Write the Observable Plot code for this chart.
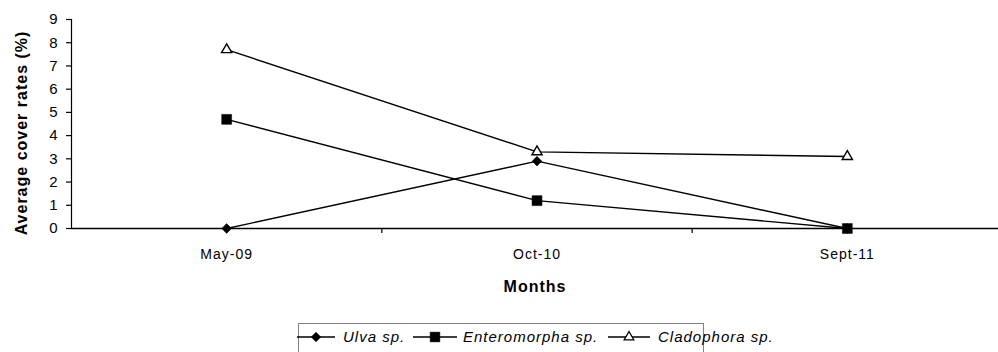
<!DOCTYPE html>
<html><head><meta charset="utf-8">
<script src="https://cdn.jsdelivr.net/npm/d3@7"></script>
<script src="https://cdn.jsdelivr.net/npm/@observablehq/plot@0.6"></script>
<style>
body{margin:0;background:#fff;font-family:"Liberation Sans",Arial,sans-serif;}
#wrap{position:relative;width:998px;height:352px;overflow:hidden;background:#fff;}
#chart svg text{letter-spacing:1px;}
#legend{position:absolute;left:298px;top:323px;width:406px;height:32px;border:1px solid #808080;box-sizing:border-box;}
#legend .txt{position:absolute;top:0;line-height:26px;font-style:italic;font-size:15px;letter-spacing:1px;color:#000;white-space:nowrap;}
#legend svg{position:absolute;top:0;}
</style>
</head><body><div id="wrap"><div id="chart"></div><div id="legend"></div></div>
<script>
const months = ["May-09", "Oct-10", "Sept-11"];
const seriesNames = ["Ulva sp.", "Enteromorpha sp.", "Cladophora sp."];
const ulva = [0, 2.9, 0];
const enteromorpha = [4.7, 1.2, 0];
const cladophora = [7.7, 3.3, 3.1];
const yTicks = [0, 1, 2, 3, 4, 5, 6, 7, 8, 9];

const toRows = vals => vals.map((v, i) => ({month: i, value: v}));
const rUlva = toRows(ulva), rEnt = toRows(enteromorpha), rClad = toRows(cladophora);

const chart = Plot.plot({
  width: 998, height: 322,
  marginLeft: 71, marginRight: 0, marginTop: 19, marginBottom: 94,
  style: {fontFamily: '"Liberation Sans", Arial, sans-serif', fontSize: "14px", color: "#000", background: "#fff"},
  x: {type: "linear", domain: [-0.5, 2.5], range: [71, 1002]},
  y: {domain: [0, 9]},
  marks: [
    Plot.axisY({ticks: yTicks, tickSize: 5, tickPadding: 8, label: null, fontSize: 15, strokeWidth: 1.2}),
    Plot.axisX({ticks: [0.5, 1.5], tickSize: 5, tickFormat: () => "", label: null, strokeWidth: 1.2}),
    Plot.axisX({ticks: [0, 1, 2], tickSize: 0, tickPadding: 21, tickFormat: i => months[i], label: null, fontSize: 14}),
    Plot.ruleX([-0.5], {y1: 0, y2: 9, stroke: "black", strokeWidth: 1.2}),
    Plot.ruleY([0], {x1: -0.5, x2: 2.5, stroke: "black", strokeWidth: 1.4}),
    Plot.line(rUlva, {x: "month", y: "value", stroke: "black", strokeWidth: 1.4}),
    Plot.line(rEnt, {x: "month", y: "value", stroke: "black", strokeWidth: 1.4}),
    Plot.line(rClad, {x: "month", y: "value", stroke: "black", strokeWidth: 1.4}),
    Plot.dot(rUlva, {x: "month", y: "value", symbol: "diamond2", fill: "black", stroke: "black", strokeWidth: 0.5, r: 4.4}),
    Plot.dot(rEnt, {x: "month", y: "value", symbol: "square", fill: "black", stroke: "black", strokeWidth: 0.5, r: 5.6}),
    Plot.dot(rClad, {x: "month", y: "value", symbol: "triangle", fill: "white", stroke: "black", strokeWidth: 1.4, r: 3.8}),
    Plot.text(["Months"], {frameAnchor: "bottom", textAnchor: "middle", lineAnchor: "middle", dy: 58, fontWeight: "bold", fontSize: 16}),
    Plot.text(["Average cover rates (%)"], {frameAnchor: "left", textAnchor: "middle", lineAnchor: "middle", rotate: -90, dx: -50, dy: 9, fontWeight: "bold", fontSize: 16})
  ]
});
document.getElementById("chart").appendChild(chart);

// legend
const legend = d3.select("#legend");
const items = [
  {name: seriesNames[0], sym: d3.symbolDiamond2, size: 60, fill: "black", lx: [-2, 36], tx: 44},
  {name: seriesNames[1], sym: d3.symbolSquare, size: 95, fill: "black", lx: [114, 158], tx: 164},
  {name: seriesNames[2], sym: d3.symbolTriangle, size: 40, fill: "white", lx: [309, 351], tx: 359}
];
for (const it of items) {
  const w = it.lx[1] - it.lx[0];
  const s = legend.append("svg").attr("width", w).attr("height", 26).style("left", it.lx[0] + "px");
  s.append("line").attr("x1", 0).attr("x2", w).attr("y1", 13).attr("y2", 13).attr("stroke", "black").attr("stroke-width", 1.4);
  s.append("path").attr("d", d3.symbol(it.sym, it.size)()).attr("transform", `translate(${w / 2},13)`)
    .attr("fill", it.fill).attr("stroke", "black").attr("stroke-width", it.fill === "white" ? 1.3 : 0.5);
  legend.append("div").attr("class", "txt").style("left", it.tx + "px").text(it.name);
}
</script>
</body></html>
